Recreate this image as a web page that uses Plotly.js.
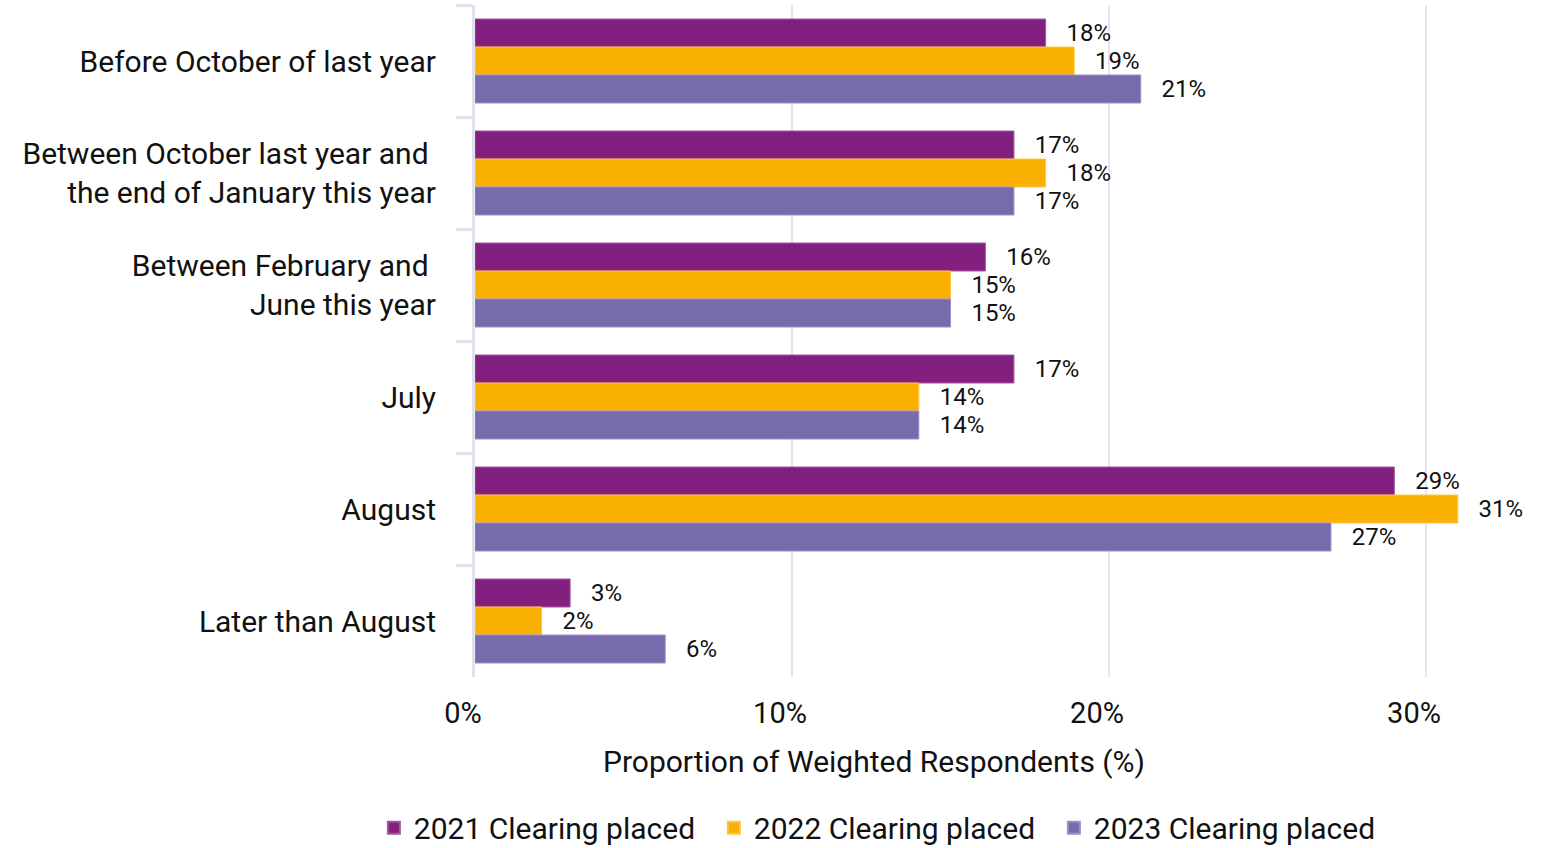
<!DOCTYPE html>
<html>
<head>
<meta charset="utf-8">
<script src="https://cdn.plot.ly/plotly-3.0.1.min.js"></script>
<style>html,body{margin:0;padding:0;background:#fff;}#chart{width:1547px;height:848px;}</style>
</head>
<body>
<div id="chart"></div>
<script>
const categories = [
  "Before October of last year",
  "Between October last year and\u00a0<br>the end of January this year",
  "Between February and\u00a0<br>June this year",
  "July",
  "August",
  "Later than August"
];
const seriesNames = ["2021 Clearing placed", "2022 Clearing placed", "2023 Clearing placed"];
const values2021 = [18.0, 17.0, 16.1, 17.0, 29.0, 3.0];
const values2022 = [18.9, 18.0, 15.0, 14.0, 31.0, 2.1];
const values2023 = [21.0, 17.0, 15.0, 14.0, 27.0, 6.0];
const xTickVals = [0, 10, 20, 30];
const xTickText = ["0%", "10%", "20%", "30%"];
const colors = ["#831F7E", "#F9B000", "#776BAE"];
const edgeColors = ["#a0589c", "#fbc64a", "#9a91c4"];

const allValues = [values2021, values2022, values2023];
const traces = allValues.map((vals, i) => ({
  type: "bar",
  orientation: "h",
  name: seriesNames[i],
  y: categories,
  x: vals,
  text: vals.map(v => "\u00a0\u00a0\u00a0" + Math.round(v) + "%"),
  textposition: "outside",
  textfont: {family: "Roboto", size: 24, color: "#111"},
  constraintext: "none",
  cliponaxis: false,
  hoverinfo: "skip",
  marker: {color: colors[i], line: {color: edgeColors[i], width: 1}}
}));

const layout = {
  width: 1547,
  height: 848,
  margin: {l: 475, r: 10, t: 5, b: 171},
  paper_bgcolor: "#fff",
  plot_bgcolor: "#fff",
  barmode: "group",
  bargap: 0.25,
  bargroupgap: 0,
  showlegend: true,
  font: {family: "Roboto", color: "#111"},
  xaxis: {
    range: [0, 33.5],
    tickvals: xTickVals,
    ticktext: xTickText,
    showgrid: true,
    gridcolor: "#e3e5f0",
    gridwidth: 2,
    zeroline: false,
    showline: false,
    ticks: "outside",
    ticklen: 10,
    tickcolor: "rgba(0,0,0,0)",
    ticklabelshift: -12,
    tickfont: {family: "Roboto", size: 29, color: "#111"},
    automargin: false,
    fixedrange: true
  },
  yaxis: {
    autorange: "reversed",
    type: "category",
    showline: true,
    linecolor: "#dfe2ee",
    linewidth: 3,
    ticks: "outside",
    tickson: "boundaries",
    ticklen: 16,
    tickwidth: 3,
    tickcolor: "#dfe2ee",
    ticklabelstandoff: 30,
    showgrid: false,
    tickfont: {family: "Roboto", size: 30, color: "#111"},
    automargin: false,
    fixedrange: true
  },
  legend: {
    orientation: "h",
    xref: "paper",
    x: 0.385,
    xanchor: "center",
    yref: "container",
    y: 0.024,
    yanchor: "middle",
    traceorder: "normal",
    font: {family: "Roboto", size: 30, color: "#111"},
    itemwidth: 30,
    entrywidth: 295,
    itemsizing: "constant"
  },
  annotations: [{
    text: "Proportion of Weighted Respondents (%)",
    xref: "paper", yref: "paper",
    x: 0.376, y: -0.125,
    xanchor: "center", yanchor: "middle",
    showarrow: false,
    font: {family: "Roboto", size: 30, color: "#111"}
  }]
};

Plotly.newPlot("chart", traces, layout, {displayModeBar: false, staticPlot: true});
</script>
</body>
</html>
